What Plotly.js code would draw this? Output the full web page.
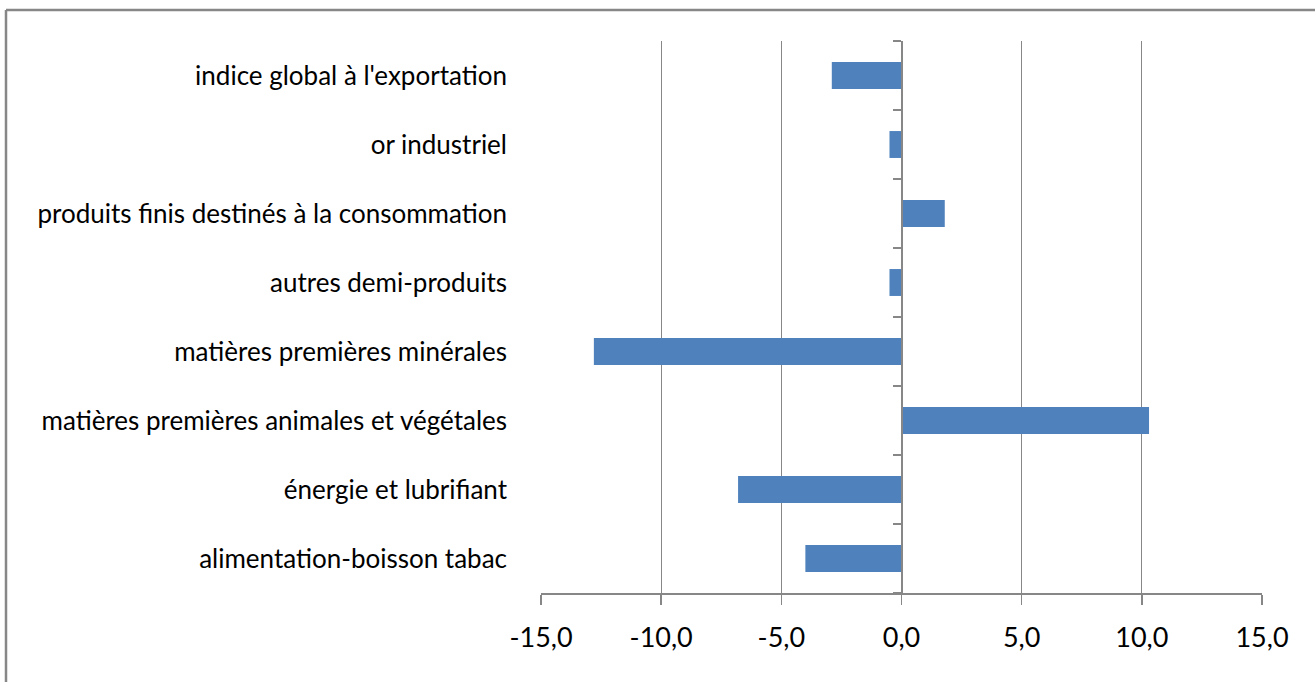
<!DOCTYPE html>
<html>
<head>
<meta charset="utf-8">
<script src="https://cdn.plot.ly/plotly-3.0.1.min.js"></script>
<style>
html,body{margin:0;padding:0;background:#fff;}
#chart{width:1315px;height:682px;}
</style>
</head>
<body>
<div id="chart"></div>
<script>
const categories = [
  "alimentation-boisson tabac",
  "énergie et lubrifiant",
  "matières premières animales et végétales",
  "matières premières minérales",
  "autres demi-produits",
  "produits finis destinés à la consommation",
  "or industriel",
  "indice global à l'exportation"
];
const values = [-4.0, -6.8, 10.3, -12.8, -0.5, 1.8, -0.5, -2.9];
const xTicks = [-15, -10, -5, 0, 5, 10, 15];
const xTickText = xTicks.map(v => v.toFixed(1).replace(".", ","));

const W = 1315, H = 682;
const margin = {l: 541, r: 53, t: 41, b: 89};
const xRange = [-15, 15];
const xDomainPos = (0 - xRange[0]) / (xRange[1] - xRange[0]);
const boundaries = [];
for (let i = 0; i <= categories.length; i++) boundaries.push(i - 0.5);

const gray = "#878787";
const fontFam = "Lato, 'Open Sans', sans-serif";

const data = [
  {
    type: "bar",
    orientation: "h",
    y: categories,
    x: values,
    marker: {color: "#4f81bd"},
    width: 0.39,
    hoverinfo: "x+y"
  },
  {
    type: "scatter",
    mode: "markers",
    x: [0],
    y: [0],
    yaxis: "y2",
    marker: {opacity: 0},
    hoverinfo: "skip",
    showlegend: false
  }
];

const layout = {
  width: W,
  height: H,
  margin: margin,
  paper_bgcolor: "#fff",
  plot_bgcolor: "#fff",
  showlegend: false,
  font: {family: fontFam, size: 25, color: "#000"},
  xaxis: {
    range: xRange,
    tickmode: "array",
    tickvals: xTicks,
    ticktext: xTickText,
    showgrid: true,
    gridcolor: gray,
    gridwidth: 1.3,
    zeroline: false,
    showline: true,
    linecolor: gray,
    linewidth: 1.5,
    ticks: "outside",
    ticklen: 10,
    tickcolor: gray,
    tickwidth: 1.5,
    tickfont: {family: fontFam, size: 27, color: "#000"},
    ticklabelstandoff: 10,
    fixedrange: true
  },
  yaxis: {
    type: "category",
    categoryorder: "array",
    categoryarray: categories,
    range: [-0.5, categories.length - 0.5],
    showgrid: false,
    zeroline: false,
    showline: false,
    ticks: "",
    ticklabelstandoff: 33,
    tickfont: {family: fontFam, size: 26, color: "#000"},
    fixedrange: true
  },
  yaxis2: {
    overlaying: "y",
    anchor: "free",
    position: xDomainPos,
    side: "left",
    range: [-0.5, categories.length - 0.5],
    tickvals: boundaries,
    showticklabels: false,
    showgrid: false,
    zeroline: false,
    showline: true,
    linecolor: gray,
    linewidth: 2,
    ticks: "outside",
    ticklen: 8,
    tickcolor: gray,
    tickwidth: 1.5,
    fixedrange: true
  },
  shapes: [
    {type: "line", xref: "paper", yref: "paper",
     x0: -(margin.l - 6) / (W - margin.l - margin.r), x1: -(margin.l - 6) / (W - margin.l - margin.r),
     y0: 1 + (margin.t - 10) / (H - margin.t - margin.b), y1: -margin.b / (H - margin.t - margin.b) - 0.01,
     line: {color: gray, width: 2.5}},
    {type: "line", xref: "paper", yref: "paper",
     x0: -(margin.l - 6) / (W - margin.l - margin.r), x1: 1 + (margin.r + 5) / (W - margin.l - margin.r),
     y0: 1 + (margin.t - 10) / (H - margin.t - margin.b), y1: 1 + (margin.t - 10) / (H - margin.t - margin.b),
     line: {color: gray, width: 2.5}}
  ]
};

Plotly.newPlot("chart", data, layout, {displayModeBar: false, staticPlot: true});
</script>
</body>
</html>
